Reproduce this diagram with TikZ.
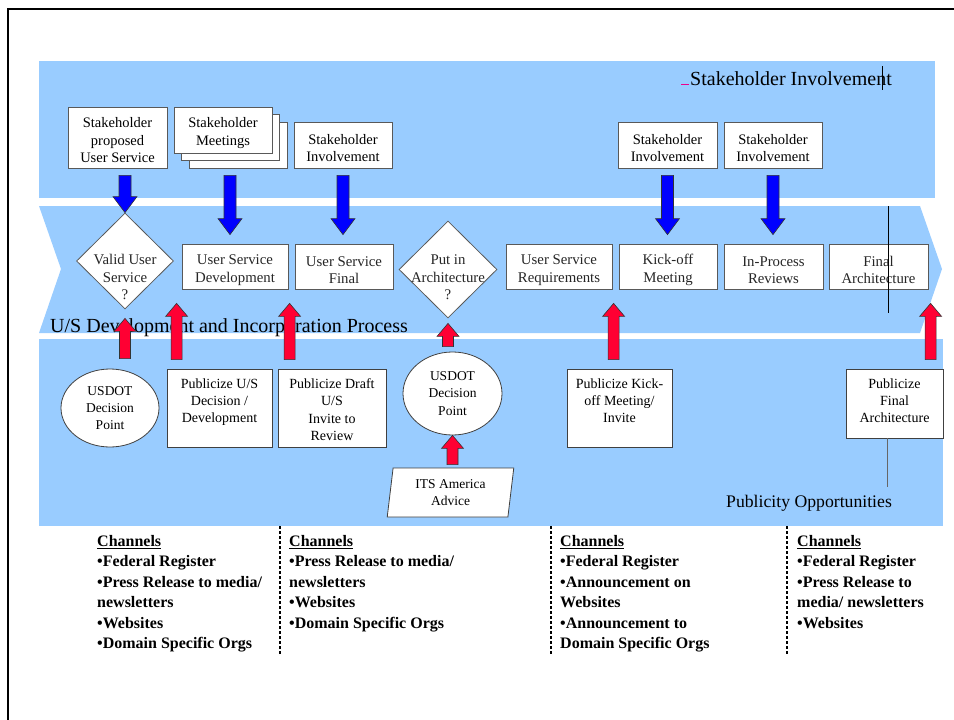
\documentclass[tikz,border=0pt]{standalone}
\usepackage{fontspec}
\setmainfont{Liberation Serif}
\usetikzlibrary{shapes.geometric,calc}
\definecolor{bandblue}{HTML}{99CCFF}
\definecolor{arrowblue}{HTML}{0000FF}
\definecolor{arrowred}{HTML}{FF0033}

\tikzset{
  band/.style={fill=bandblue, draw=none},
  box/.style={draw=black!65, line width=0.8pt, fill=white, inner sep=0pt},
  boxtext/.style={align=center, inner sep=0pt, yshift=-3pt, font=\fontsize{14.5}{17.5}\selectfont},
  stepbox/.style={box, minimum height=45pt},
  steptext/.style={align=center, inner sep=0pt, yshift=-3.5pt, text=black!85,
    font=\fontsize{14.8}{17.5}\selectfont},
  pubbox/.style={draw=black!75, line width=0.8pt, fill=white, inner sep=0pt},
  pubtext/.style={anchor=north, inner sep=0pt, yshift=-10pt, align=center,
    font=\fontsize{14}{17.2}\selectfont},
  decision/.style={diamond, draw=black!65, line width=0.8pt, fill=white, inner sep=0pt},
  difftext/.style={align=center, inner sep=0pt, text=black!85, font=\fontsize{14.8}{17.5}\selectfont},
  usdot/.style={ellipse, draw=black!75, line width=0.8pt, fill=white, inner sep=0pt, align=center,
    font=\fontsize{13.5}{17.2}\selectfont},
  bigtext/.style={anchor=base west, inner sep=0pt},
  channels/.style={anchor=north west, inner sep=0pt, align=left,
    font=\fontsize{16}{20.5}\selectfont\bfseries},
  divider/.style={line width=1.3pt, dash pattern=on 3pt off 2pt},
  blockdown/.style={draw=black!80, line width=0.6pt, fill=arrowblue,
    to path={let \p1=(\tikztostart), \p2=(\tikztotarget) in
      (\x1-6pt,\y1) -- (\x1-6pt,\y2+16pt) -- (\x1-12pt,\y2+16pt) -- (\x1,\y2)
      -- (\x1+12pt,\y2+16pt) -- (\x1+6pt,\y2+16pt) -- (\x1+6pt,\y1) -- cycle}},
  blockup/.style={draw=black!80, line width=0.6pt, fill=arrowred,
    to path={let \p1=(\tikztostart), \p2=(\tikztotarget) in
      (\x1-5.5pt,\y1) -- (\x1-5.5pt,\y2-13pt) -- (\x1-11pt,\y2-13pt) -- (\x1,\y2)
      -- (\x1+11pt,\y2-13pt) -- (\x1+5.5pt,\y2-13pt) -- (\x1+5.5pt,\y1) -- cycle}},
}

\begin{document}
\begin{tikzpicture}[x=1pt,y=-1pt]
\useasboundingbox (0,0) rectangle (954,720);
\fill[white] (0,0) rectangle (954,720);

% page frame
\draw[line width=2pt, line join=miter] (8,720) -- (8,9) -- (954,9);

% three bands
\fill[band] (39,61) rectangle (935,198);
\fill[band] (39,206) -- (920,206) -- (942,269) -- (920,333) -- (39,333) -- (61,269) -- cycle;
\fill[band] (39,339) rectangle (943,526);

% band titles
\node[bigtext, font=\fontsize{20}{22}\selectfont] (sttitle) at (690,85) {Stakeholder Involvement};
\draw[magenta, line width=1pt] (681,84.5) -- (689,84.5);
\draw[line width=0.8pt] (882,66) -- (882,90);
\node[bigtext, font=\fontsize{20}{22}\selectfont] (proctitle) at (50,332) {U/S Development and Incorporation Process};
\node[bigtext, font=\fontsize{17.7}{22}\selectfont] (pubtitle) at (726,507) {Publicity Opportunities};

% stakeholder inputs
\node[box, minimum width=99pt, minimum height=61pt,
  label={[boxtext]center:Stakeholder\\proposed\\User Service}] (b1) at (117.5,137.5) {};
\node[box, minimum width=98pt, minimum height=46pt] (m3) at (238,145) {};
\node[box, minimum width=98pt, minimum height=46pt] (m2) at (230,137.5) {};
\node[box, minimum width=98pt, minimum height=46pt,
  label={[boxtext]center:Stakeholder\\Meetings}] (m1) at (223,130) {};
\node[box, minimum width=98pt, minimum height=46pt,
  label={[boxtext]center:Stakeholder\\Involvement}] (si1) at (343,145) {};
\node[box, minimum width=99pt, minimum height=46pt,
  label={[boxtext]center:Stakeholder\\Involvement}] (si2) at (667.5,145) {};
\node[box, minimum width=98pt, minimum height=46pt,
  label={[boxtext]center:Stakeholder\\Involvement}] (si3) at (773,145) {};

% process steps
\node[decision, minimum width=97pt, minimum height=96pt,
  label={[difftext, yshift=-16pt]center:Valid User\\Service\\?}] (d1) at (125,261) {};
\node[stepbox, minimum width=106pt,
  label={[steptext]center:User Service\\Development}] (usd) at (235,266.5) {};
\node[stepbox, minimum width=98pt,
  label={[steptext]center:User Service\\Final}] (usf) at (344,266.5) {};
\node[decision, minimum width=98pt, minimum height=97pt,
  label={[difftext, yshift=-8pt]center:Put in\\Architecture\\?}] (d2) at (448,269.5) {};
\node[stepbox, minimum width=106pt,
  label={[steptext]center:User Service\\Requirements}] (usr) at (559,266.5) {};
\node[stepbox, minimum width=98pt,
  label={[steptext]center:Kick-off\\Meeting}] (kom) at (668,266.5) {};
\node[stepbox, minimum width=99pt,
  label={[steptext]center:In-Process\\Reviews}] (ipr) at (773.5,266.5) {};
\node[stepbox, minimum width=99pt,
  label={[steptext]center:Final\\Architecture}] (fa) at (878.5,266.5) {};
\draw[line width=0.8pt] (888,206) -- (888,313);

% publicity items
\node[usdot, minimum width=98pt, minimum height=78pt] (e1) at (110,408) {USDOT\\Decision\\Point};
\node[pubbox, minimum width=105pt, minimum height=78pt,
  label={[pubtext]north:Publicize U/S\\Decision /\\Development}] (pub1) at (219.5,408) {};
\node[pubbox, minimum width=108pt, minimum height=78pt,
  label={[pubtext]north:Publicize Draft\\U/S\\Invite to\\Review}] (pub2) at (332,408) {};
\node[usdot, minimum width=99pt, minimum height=83pt] (e2) at (452.5,393.5) {USDOT\\Decision\\Point};
\node[trapezium, trapezium left angle=82, trapezium right angle=98, trapezium stretches=true,
  draw=black!75, line width=0.8pt, fill=white, inner sep=0pt, minimum width=127pt, minimum height=49pt,
  align=center, font=\fontsize{13.5}{16.5}\selectfont] (its) at (450.5,492.5) {ITS America\\Advice};
\node[pubbox, minimum width=105pt, minimum height=78pt,
  label={[pubtext]north:Publicize Kick-\\off Meeting/\\Invite}] (pub3) at (619.5,408) {};
\node[pubbox, minimum width=97pt, minimum height=69pt,
  label={[pubtext]north:Publicize\\Final\\Architecture}] (pub4) at (894.5,403.5) {};
\coordinate (pubend) at (887,487);
\draw[black!60, line width=1pt] (pub4.south -| pubend) -- (pubend);

% stakeholder arrows
\draw[blockdown] ($(b1.south -| d1.north)+(0,7)$) to (d1.north);
\draw[blockdown] ($(m3.south -| m2.south)+(0,7)$) to ($(usd.north -| m2.south)+(0,-9)$);
\draw[blockdown] ($(si1.south)+(0,7)$) to ($(usf.north -| si1.south)+(0,-9)$);
\draw[blockdown] ($(si2.south)+(0,7)$) to ($(kom.north -| si2.south)+(0,-9)$);
\draw[blockdown] ($(si3.south)+(0,7)$) to ($(ipr.north -| si3.south)+(0,-9)$);

% publicity arrows
\draw[blockup] ($(e1.north -| d1.south)+(0,-10)$) to ($(d1.south)+(0,9)$);
\draw[blockup] ($(pub1.north west)+(10,-9)$) to ($(usd.south -| pub1.north west)+(10,14)$);
\draw[blockup] ($(pub2.north west)+(12,-9)$) to ($(usf.south -| pub2.north west)+(12,14)$);
\draw[blockup] ($(e2.north -| d2.south)+(0,-5)$) to ($(d2.south)+(0,5)$);
\draw[blockup] ($(its.north -| e2.south)+(0,-3)$) to (e2.south);
\draw[blockup] ($(pub3.north west)+(47,-9)$) to ($(usr.south -| pub3.north west)+(47,14)$);
\draw[blockup] ($(pub4.north west)+(85,-9)$) to ($(fa.south -| pub4.north west)+(85,14)$);

% channel lists
\node[channels] (ch1) at (97,535) {\underline{Channels}\\\textbullet Federal Register\\\textbullet Press Release to media/\\newsletters\\\textbullet Websites\\\textbullet Domain Specific Orgs};
\node[channels] (ch2) at (289,535) {\underline{Channels}\\\textbullet Press Release to media/\\newsletters\\\textbullet Websites\\\textbullet Domain Specific Orgs};
\node[channels] (ch3) at (560,535) {\underline{Channels}\\\textbullet Federal Register\\\textbullet Announcement on\\Websites\\\textbullet Announcement to\\Domain Specific Orgs};
\node[channels] (ch4) at (797,535) {\underline{Channels}\\\textbullet Federal Register\\\textbullet Press Release to\\media/ newsletters\\\textbullet Websites};
\draw[divider] (280,526) -- (280,655);
\draw[divider] (551,526) -- (551,655);
\draw[divider] (787,526) -- (787,655);
\end{tikzpicture}
\end{document}
